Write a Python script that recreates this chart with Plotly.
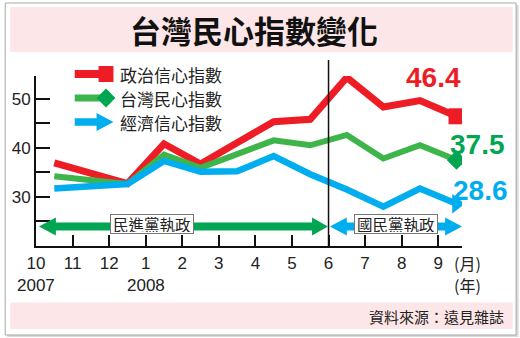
import plotly.graph_objects as go

# ---- data -------------------------------------------------------------
months = ["10", "11", "12", "1", "2", "3", "4", "5", "6", "7", "8", "9"]
years = {"10": "2007", "1": "2008"}
series_names = ["政治信心指數", "台灣民心指數", "經濟信心指數"]
political = [36.9, 34.8, 32.7, 40.8, 36.7, 41.0, 45.3, 45.8, 54.3, 48.3, 49.6, 46.4]
taiwan = [34.2, 33.4, 32.6, 38.6, 35.9, 38.7, 41.5, 40.5, 42.6, 37.8, 40.5, 37.5]
economic = [31.7, 32.1, 32.6, 37.3, 35.1, 35.2, 38.3, 34.6, 31.5, 28.0, 31.7, 28.6]
eras = ["民進黨執政", "國民黨執政"]
handover_month = "6"

# ---- style ------------------------------------------------------------
RED, GREEN_LINE, GREEN, BLUE = "#ee1d25", "#3db54a", "#00a651", "#00aeef"
CJK = "Noto Sans CJK TC"
LAT = "Liberation Sans"
W, H = 520, 338
L, R, T, B = 33, 462, 76, 246  # plot area in pixels


def px(x):
    return (x - L) / (R - L)


def py(y):
    return (B - y) / (B - T)


def poly(points):
    return "M " + " L ".join(f"{px(x):.5f},{py(y):.5f}" for x, y in points) + " Z"


xs = [i + 0.5 for i in range(len(months))]

fig = go.Figure()

styles = [
    (political, RED, 7, "square", 16),
    (taiwan, GREEN_LINE, 6, "diamond", 15),
    (economic, BLUE, 6.5, "triangle-right", 17),
]
for (vals, col, lw, sym, ms), name in zip(styles, series_names):
    mcol = GREEN if sym == "diamond" else col
    fig.add_trace(go.Scatter(
        x=xs, y=vals, mode="lines", name=name,
        line=dict(color=col, width=lw), showlegend=False, hoverinfo="skip"))
    fig.add_trace(go.Scatter(
        x=xs[-1:], y=vals[-1:], mode="markers", showlegend=False,
        marker=dict(symbol=sym, size=ms, color=mcol, line=dict(width=0)),
        hoverinfo="skip"))

shapes = []
# outer frame with a soft shadow
shapes.append(dict(type="rect", xref="paper", yref="paper",
                   x0=px(4), x1=px(519), y0=py(337), y1=py(5),
                   fillcolor="#d9d9d9", line=dict(width=0), layer="below"))
shapes.append(dict(type="rect", xref="paper", yref="paper",
                   x0=px(2), x1=px(516.5), y0=py(335), y1=py(3),
                   fillcolor="white", line=dict(color="#a8a8a8", width=1), layer="below"))
# pink title and source bands
shapes.append(dict(type="rect", xref="paper", yref="paper",
                   x0=px(7), x1=px(513), y0=py(52), y1=py(7),
                   fillcolor="#fde6e7", line=dict(width=0), layer="below"))
shapes.append(dict(type="rect", xref="paper", yref="paper",
                   x0=px(7), x1=px(513), y0=py(329), y1=py(302.5),
                   fillcolor="#fde6e7", line=dict(width=0), layer="below"))

# handover line at the month boundary
hx = months.index(handover_month)
shapes.append(dict(type="line", xref="x", yref="paper", x0=hx, x1=hx,
                   y0=0, y1=py(60), line=dict(color="#111", width=1.5)))

# era arrows
ay = 226.5
shapes.append(dict(type="path", xref="paper", yref="paper", fillcolor=GREEN,
                   line=dict(width=0), path=poly([
                       (36, ay), (53, ay - 9), (53, ay - 4), (311, ay - 4), (311, ay - 9),
                       (327, ay), (311, ay + 9), (311, ay + 4), (53, ay + 4), (53, ay + 9)])))
shapes.append(dict(type="path", xref="paper", yref="paper", fillcolor=BLUE,
                   line=dict(width=0), path=poly([
                       (329, ay), (346, ay - 9), (346, ay - 4), (445, ay - 4), (445, ay - 9),
                       (462, ay), (445, ay + 9), (445, ay + 4), (346, ay + 4), (346, ay + 9)])))

# legend glyphs
leg_y = [74, 98, 122]
for (vals, col, lw, sym, ms), y in zip(styles, leg_y):
    shapes.append(dict(type="line", xref="paper", yref="paper",
                       x0=px(72), x1=px(100), y0=py(y), y1=py(y),
                       line=dict(color=col, width=lw + 1)))
shapes.append(dict(type="path", xref="paper", yref="paper", fillcolor=RED,
                   line=dict(width=0), path=poly([(96, 66), (111, 66), (111, 82), (96, 82)])))
shapes.append(dict(type="path", xref="paper", yref="paper", fillcolor=GREEN,
                   line=dict(width=0), path=poly([(94, 98), (103.5, 88.5), (113, 98), (103.5, 107.5)])))
shapes.append(dict(type="path", xref="paper", yref="paper", fillcolor=BLUE,
                   line=dict(width=0), path=poly([(94, 113), (111, 122), (94, 131)])))

ann = []
ann.append(dict(text="<b>台灣民心指數變化</b>", x=px(253), y=py(29.5), xref="paper", yref="paper",
                showarrow=False, font=dict(family=CJK, size=31, color="#111"),
                xanchor="center", yanchor="middle"))
ann.append(dict(text="資料來源：遠見雜誌", x=px(506), y=py(316), xref="paper", yref="paper",
                showarrow=False, font=dict(family=CJK, size=15, color="#222"),
                xanchor="right", yanchor="middle"))
for name, y in zip(series_names, leg_y):
    ann.append(dict(text=name, x=px(116), y=py(y), xref="paper", yref="paper",
                    showarrow=False, font=dict(family=CJK, size=17, color="#222"),
                    xanchor="left", yanchor="middle"))
for era, cx in zip(eras, [150, 396]):
    ann.append(dict(text=era, x=px(cx), y=py(224), xref="paper", yref="paper",
                    showarrow=False, font=dict(family=CJK, size=15.5, color="#222"),
                    bgcolor="white", bordercolor="#777", borderwidth=1, borderpad=1,
                    width=80, height=16, xanchor="center", yanchor="middle"))
for m, yr in years.items():
    ann.append(dict(text=yr, x=months.index(m), y=py(285), xref="x", yref="paper",
                    showarrow=False, font=dict(family=LAT, size=17, color="#222"),
                    xanchor="center", yanchor="middle"))
for t, y in [("(月)", 263), ("(年)", 285)]:
    ann.append(dict(text=t, x=px(468), y=py(y), xref="paper", yref="paper",
                    showarrow=False, font=dict(family=CJK, size=16, color="#222"),
                    xanchor="center", yanchor="middle"))
# end values
for vals, col, (cx, cy) in [(political, RED, (433, 77)), (taiwan, GREEN, (478, 144)),
                            (economic, BLUE, (481, 190))]:
    ann.append(dict(text=f"<b>{vals[-1]:.1f}</b>", x=px(cx), y=py(cy), xref="paper", yref="paper",
                    showarrow=False, font=dict(family=LAT, size=28, color=col),
                    xanchor="center", yanchor="middle"))

fig.update_layout(
    width=W, height=H,
    margin=dict(l=L, r=W - R, t=T, b=H - B, pad=0),
    paper_bgcolor="white", plot_bgcolor="rgba(0,0,0,0)",
    shapes=shapes, annotations=ann, showlegend=False,
    xaxis=dict(range=[0, 11.65], showgrid=False, zeroline=False, showline=True,
               linecolor="#111", linewidth=2, ticks="inside", ticklen=11, tickwidth=2,
               tickcolor="#111", tickvals=list(range(len(months))), ticktext=months,
               tickfont=dict(family=LAT, size=17, color="#222"), ticklabelstandoff=1),
    yaxis=dict(range=[20, 54.6], showgrid=False, zeroline=False, showline=True,
               linecolor="#111", linewidth=2, ticks="inside", ticklen=14, tickwidth=2,
               tickcolor="#111", tickvals=[25, 30, 35, 40, 45, 50],
               ticktext=["", "30", "", "40", "", "50"],
               tickfont=dict(family=LAT, size=17, color="#222")),
)

fig.write_html("out.html")
